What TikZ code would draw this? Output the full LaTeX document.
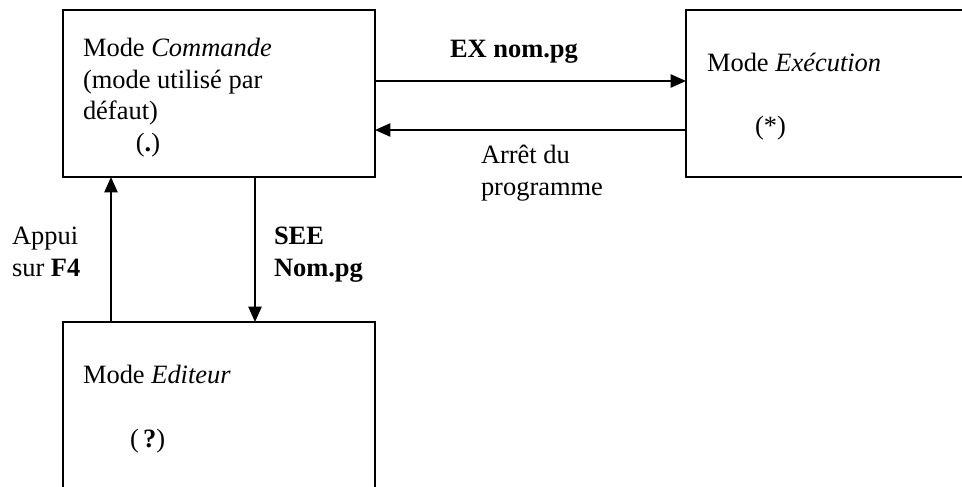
\documentclass[tikz,border=0pt]{standalone}
\usepackage{fontspec}
\setmainfont{Liberation Serif}
\usetikzlibrary{arrows.meta}
\begin{document}
\begin{tikzpicture}[x=0.4535pt,y=-0.4535pt,
  every node/.style={inner sep=0pt,outer sep=0pt,font=\fontsize{12pt}{14.3pt}\selectfont},
  boxline/.style={line width=0.9pt},
  arr/.style={line width=0.9pt,-{Triangle[length=7pt,width=6pt]}},
  txt/.style={anchor=base west,align=left}]
\useasboundingbox (0,0) rectangle (962,486);
\clip (0,0) rectangle (962,486);
% boxes
\node[draw,boxline,minimum width=312*0.4535pt,minimum height=167*0.4535pt] (cmd) at (219,93.5) {};
\node[minimum width=304*0.4535pt,minimum height=167*0.4535pt] (exe) at (838,93.5) {};
\node[minimum width=312*0.4535pt,minimum height=198*0.4535pt] (edi) at (219,421) {};
\draw[boxline] (exe.north east) -- (exe.north west) -- (exe.south west) -- (exe.south east);
\draw[boxline] (edi.south west) -- (edi.north west) -- (edi.north east) -- (edi.south east);
% texts (base anchor = baseline of the last line)
\node[txt] (t1) at (83,151.5) {Mode \textit{Commande}\\(mode utilisé par\\défaut)\\\hspace{24pt}(\textbf{.})};
\node[txt] (t2) at (707,72) {Mode \textit{Exécution}};
\node[txt] (t3) at (755,134) {(*)};
\node[txt] (t4) at (83,383) {Mode \textit{Editeur}};
\node[txt] (t5) at (130,447) {(\,\textbf{?})};
\node[txt] (l1) at (450,58) {\textbf{EX nom.pg}};
\node[txt] (l2) at (481,195) {Arrêt du\\programme};
\node[txt] (l3) at (12,276) {Appui\\sur \textbf{F4}};
\node[txt] (l4) at (274,276) {\textbf{SEE}\\\textbf{Nom.pg}};
% connectors
\draw[arr] (cmd.east |- 0,81) -- (exe.west |- 0,81);
\draw[arr] (exe.west |- 0,130) -- (cmd.east |- 0,130);
\draw[arr] (edi.north -| 111,0) -- (cmd.south -| 111,0);
\draw[arr] (cmd.south -| 255,0) -- (edi.north -| 255,0);
\end{tikzpicture}
\end{document}
